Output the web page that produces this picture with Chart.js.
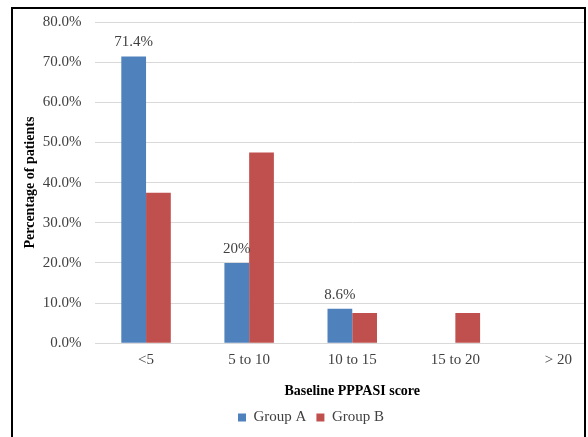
<!DOCTYPE html>
<html>
<head>
<meta charset="utf-8">
<script src="https://cdn.jsdelivr.net/npm/chart.js@4"></script>
<style>
  body { margin: 0; overflow: hidden; background: #fff; }
  #clip { position: absolute; left: 0; top: 0; width: 585px; height: 437px; overflow: hidden; }
  #frame { position: absolute; left: 11px; top: 7px; width: 571px; height: 440px; border: 2px solid #000; border-bottom: none; pointer-events: none; }
</style>
</head>
<body>
<div id="clip">
  <canvas id="bar-chart" width="640" height="437"></canvas>
</div>
<div id="frame"></div>
<script>
const categories = ["<5", "5 to 10", "10 to 15", "15 to 20", "> 20"];
const groupA = [71.4, 20, 8.6, 0, 0];
const groupB = [37.5, 47.5, 7.5, 7.5, 0];
const yTicks = [0, 10, 20, 30, 40, 50, 60, 70, 80];

const serif = "'Liberation Serif', 'Times New Roman', serif";

// labels on top of the Group A bars only
const barLabels = {
    id: "barLabels",
    afterDatasetsDraw(chart) {
        const ctx = chart.ctx;
        const meta = chart.getDatasetMeta(0);
        ctx.save();
        ctx.font = "15px " + serif;
        ctx.fillStyle = "#404040";
        ctx.textAlign = "center";
        ctx.textBaseline = "middle";
        meta.data.forEach((bar, i) => {
            const v = groupA[i];
            if (v > 0) {
                ctx.fillText(v + "%", bar.x, bar.y - 14);
            }
        });
        ctx.restore();
    },
};

new Chart(document.querySelector("#bar-chart").getContext("2d"), {
    type: "bar",
    data: {
        labels: categories,
        datasets: [
            {
                label: "Group A",
                backgroundColor: "#4F81BD",
                data: groupA,
            },
            {
                label: "Group B",
                backgroundColor: "#C0504D",
                data: groupB,
            },
        ],
    },
    options: {
        responsive: false,
        animation: false,
        layout: { padding: { left: 12, right: 30, top: 13, bottom: 2 } },
        datasets: {
            bar: { categoryPercentage: 0.48, barPercentage: 1.0 },
        },
        plugins: {
            tooltip: { enabled: false },
            legend: {
                position: "bottom",
                labels: {
                    boxWidth: 8,
                    boxHeight: 8,
                    padding: 10,
                    color: "#404040",
                    font: { family: serif, size: 15 },
                },
            },
        },
        scales: {
            x: {
                grid: { display: false },
                border: { display: false },
                ticks: {
                    color: "#404040",
                    padding: 0,
                    font: { family: serif, size: 15 },
                },
                title: {
                    display: true,
                    text: "Baseline PPPASI score",
                    color: "#000",
                    padding: { top: 14, bottom: 0 },
                    font: { family: serif, size: 14, weight: "bold" },
                },
            },
            y: {
                min: 0,
                max: 80,
                afterBuildTicks: (scale) => {
                    scale.ticks = yTicks.map((v) => ({ value: v }));
                },
                afterFit: (scale) => {
                    scale.width = 82.5;
                },
                grid: { color: "#d9d9d9", drawTicks: false },
                border: { display: false },
                ticks: {
                    color: "#404040",
                    padding: 13,
                    font: { family: serif, size: 15 },
                    callback: (v) => v.toFixed(1) + "%",
                },
                title: {
                    display: true,
                    text: "Percentage of patients",
                    color: "#000",
                    padding: { top: 10, bottom: 0 },
                    font: { family: serif, size: 14, weight: "bold" },
                },
            },
        },
    },
    plugins: [barLabels],
});
</script>
</body>
</html>
